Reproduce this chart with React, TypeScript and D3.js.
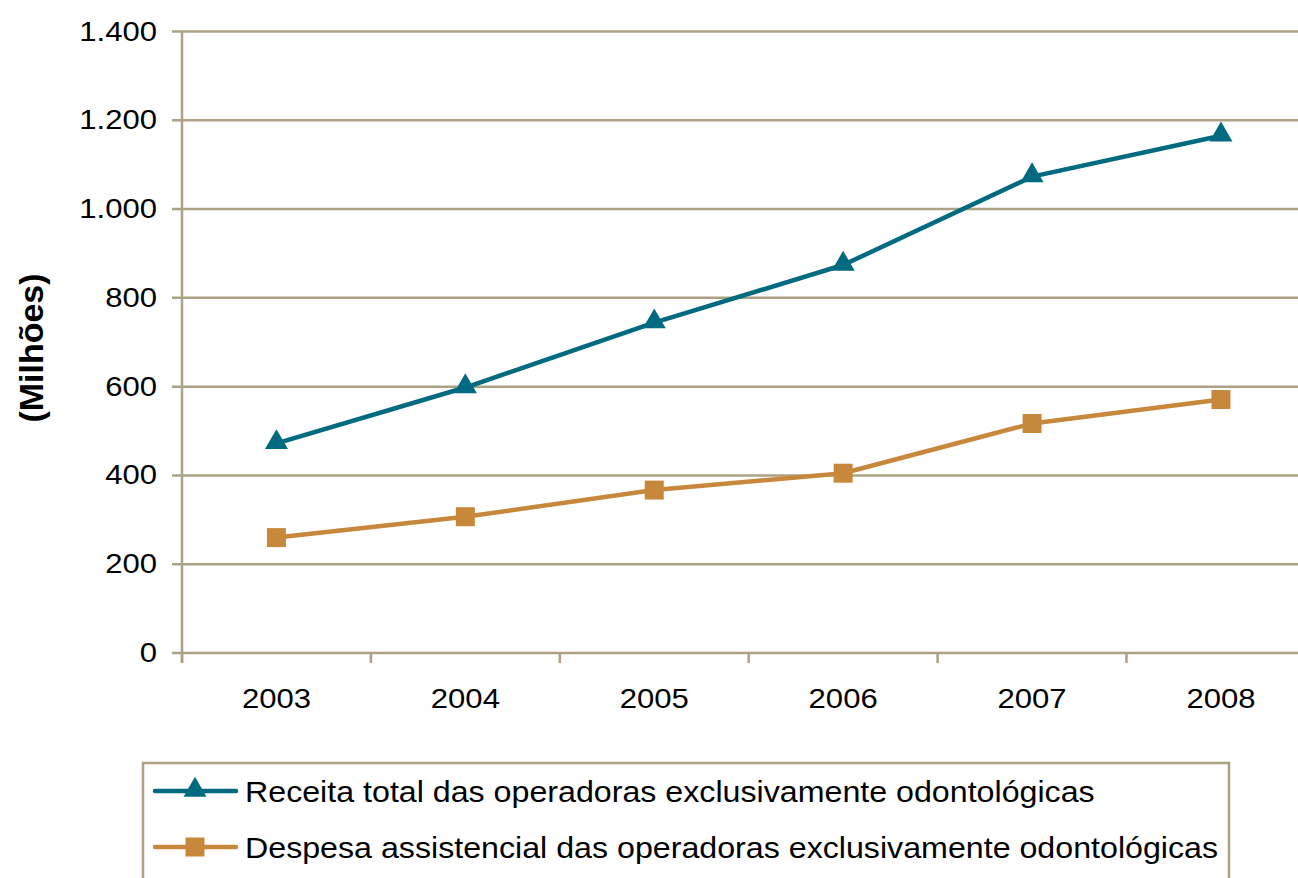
import React from "react";
import * as d3 from "d3";

const years = ["2003", "2004", "2005", "2006", "2007", "2008"];
const receita = [472, 598, 744, 874, 1073, 1165];
const despesa = [260, 307, 367, 405, 517, 571];
const yTicks = [0, 200, 400, 600, 800, 1000, 1200, 1400];
const seriesNames = [
  "Receita total das operadoras exclusivamente odontológicas",
  "Despesa assistencial das operadoras exclusivamente odontológicas",
];

const W = 1298;
const H = 878;
const TEAL = "#006B80";
const ORANGE = "#C8883C";
const GRID = "#ACA283";
const FONT = "'Liberation Sans', Arial, sans-serif";
const SX = 1.11;

function Txt(props: { x: number; y: number; size: number; anchor?: string; children: React.ReactNode }) {
  return (
    <text
      transform={`translate(${props.x},${props.y}) scale(${SX},1)`}
      textAnchor={props.anchor || "start"}
      fontSize={props.size}
      fill="#000"
    >
      {props.children}
    </text>
  );
}

export default function App() {
  const x0 = 182;
  const x1 = 182 + 6 * 188.9;
  const yTop = 31.5;
  const yBot = 653;
  const x = d3.scaleBand<string>().domain(years).range([x0, x1]);
  const y = d3.scaleLinear().domain([0, 1400]).range([yBot, yTop]);
  const cx = (d: string) => (x(d) as number) + x.bandwidth() / 2;
  const line = d3
    .line<number>()
    .x((_, i) => cx(years[i]))
    .y((v) => y(v));
  const tri = d3.symbol().type(d3.symbolTriangle).size(230);
  const sq = d3.symbol().type(d3.symbolSquare).size(360);
  const bounds = years.map((_, i) => x0 + i * x.bandwidth());
  bounds.push(x1);

  return (
    <svg width={W} height={H} style={{ position: "absolute", left: 0, top: 0, background: "#fff" }} fontFamily={FONT}>
      {yTicks.map((t) => (
        <g key={t}>
          <line x1={172} x2={W} y1={y(t)} y2={y(t)} stroke={GRID} strokeWidth={2.5} />
          <Txt x={157} y={y(t) + 9} size={28} anchor="end">
            {d3.format(",")(t).replace(/,/g, ".")}
          </Txt>
        </g>
      ))}
      <line x1={x0} x2={x0} y1={yTop} y2={yBot + 10} stroke={GRID} strokeWidth={2.5} />
      {bounds.map((b, i) => (
        <line key={i} x1={b} x2={b} y1={yBot} y2={yBot + 10} stroke={GRID} strokeWidth={2.5} />
      ))}
      {years.map((yr) => (
        <Txt key={yr} x={cx(yr)} y={708} size={28} anchor="middle">
          {yr}
        </Txt>
      ))}
      <text transform={`translate(43,348) rotate(-90)`} textAnchor="middle" fontSize={34} fontWeight="bold" fill="#000">
        (Milhões)
      </text>
      <path d={line(receita) || ""} fill="none" stroke={TEAL} strokeWidth={4.5} strokeLinejoin="round" />
      <path d={line(despesa) || ""} fill="none" stroke={ORANGE} strokeWidth={4.5} strokeLinejoin="round" />
      {receita.map((v, i) => (
        <path key={"r" + i} d={tri() || ""} transform={`translate(${cx(years[i])},${y(v) - 1})`} fill={TEAL} />
      ))}
      {despesa.map((v, i) => (
        <path key={"d" + i} d={sq() || ""} transform={`translate(${cx(years[i])},${y(v)})`} fill={ORANGE} />
      ))}
      <rect x={143} y={763} width={1229 - 143} height={140} fill="none" stroke={GRID} strokeWidth={2.5} />
      {[TEAL, ORANGE].map((c, i) => {
        const ly = 791 + i * 56;
        return (
          <g key={c}>
            <line x1={155} x2={236} y1={ly} y2={ly} stroke={c} strokeWidth={4.5} strokeLinecap="round" />
            <path d={(i === 0 ? tri() : sq()) || ""} transform={`translate(195,${ly - (i === 0 ? 1 : 0)})`} fill={c} />
            <Txt x={245} y={ly + 10.5} size={29}>
              {seriesNames[i]}
            </Txt>
          </g>
        );
      })}
    </svg>
  );
}
